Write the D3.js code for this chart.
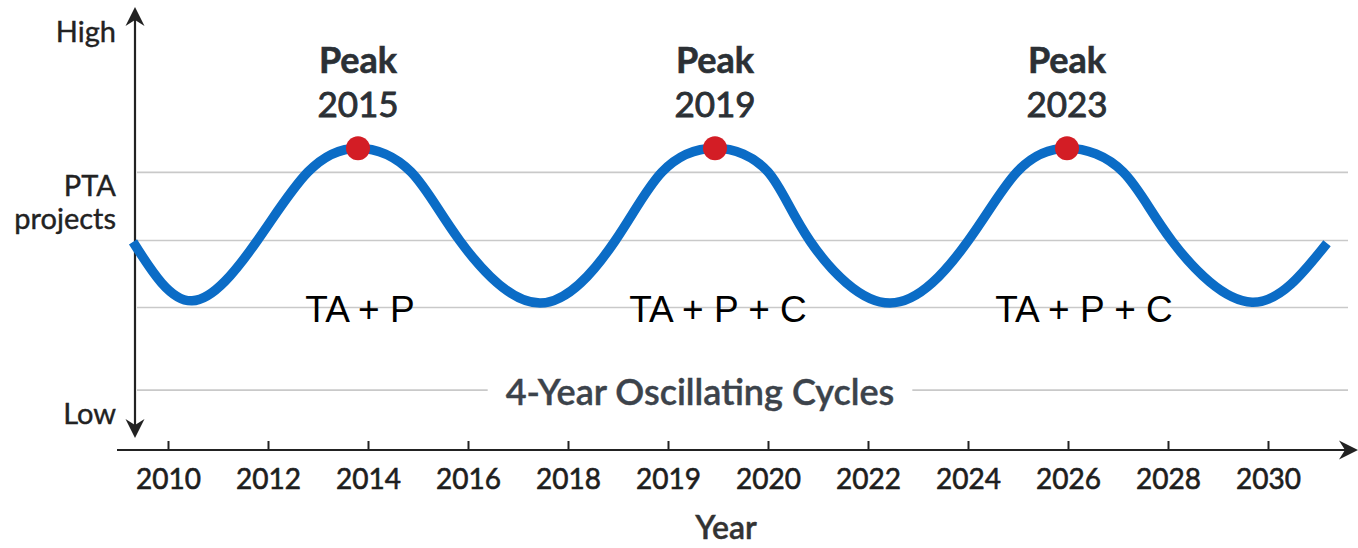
<!DOCTYPE html>
<html>
<head>
<meta charset="utf-8">
<script src="https://cdn.jsdelivr.net/npm/d3@7"></script>
<style>
  body { margin: 0; background: #fff; }
  text { font-family: Lato, "Open Sans", sans-serif; }
</style>
</head>
<body>
<div id="chart"></div>
<script>
// tick labels along the bottom (not evenly spaced years, as in the original)
var xLabels = ["2010", "2012", "2014", "2016", "2018", "2019", "2020", "2022", "2024", "2026", "2028", "2030"];

// level labels on the left
var yLabelText = ["High", "PTA projects", "Low"];
var yLabelLevel = [95, 56.3, 8.2];

// horizontal guide lines
var gridLevels = [63.1, 47.6, 32.4, 13.6];

// the oscillating curve (x = tick index, y = level)
var cycleX = [-0.35, 0.24, 0.89, 1.40, 1.90, 2.43, 2.92, 3.72, 4.47, 4.94, 5.47, 6.00, 6.42, 7.22, 8.00, 8.49, 8.99, 9.55, 10.04, 10.84, 11.59];
var cycleY = [47.3, 33.9, 47.5, 63.2, 68.6, 63.2, 47.5, 33.4, 47.5, 63.2, 68.6, 63.2, 47.5, 33.4, 47.5, 63.2, 68.6, 63.2, 47.5, 33.6, 47.0];

// peaks
var peakX = [1.90, 5.47, 8.99];
var peakY = [68.6, 68.6, 68.6];
var peakYears = ["2015", "2019", "2023"];

// phase labels under each peak
var phaseText = ["TA + P", "TA + P + C", "TA + P + C"];
var phaseX = [1.92, 5.50, 9.16];
var phaseLevel = 29.1;

var caption = "4-Year Oscillating Cycles";
var captionX = 5.32, captionLevel = 10.2;

var W = 1358, H = 548;

var svg = d3.select("#chart").append("svg")
  .attr("width", W)
  .attr("height", H);

var x = d3.scaleLinear()
  .domain([0, xLabels.length - 1])
  .range([168, 1268]);

var y = d3.scaleLinear()
  .domain([0, 100])
  .range([450, 10]);

var axisY = 450;
var yAxisX = x(-0.33);

// grid lines
svg.append("g").selectAll("line")
  .data(gridLevels)
  .enter().append("line")
    .attr("x1", yAxisX + 2)
    .attr("x2", 1348)
    .attr("y1", function(d){ return y(d); })
    .attr("y2", function(d){ return y(d); })
    .attr("stroke", "#c9c9c9")
    .attr("stroke-width", 1.6);

// caption sitting on the lowest grid line, with a gap behind it
var cap = svg.append("g");
var capText = cap.append("text")
  .attr("x", x(captionX))
  .attr("y", y(captionLevel))
  .attr("text-anchor", "middle")
  .style("font-size", "36px")
  .style("font-weight", 600)
  .attr("fill", "#3c434b")
  .attr("stroke", "#3c434b")
  .attr("stroke-width", 0.4)
  .text(caption);
var bb = capText.node().getBBox();
cap.insert("rect", "text")
  .attr("x", bb.x - 18)
  .attr("y", bb.y)
  .attr("width", bb.width + 36)
  .attr("height", bb.height)
  .attr("fill", "#fff");

// x axis: ticks point upward, labels below
var xAxis = d3.axisBottom(x)
  .tickValues(d3.range(xLabels.length))
  .tickFormat(function(i){ return xLabels[i]; })
  .tickSizeInner(-9)
  .tickSizeOuter(0)
  .tickPadding(19);

var gx = svg.append("g")
  .attr("transform", "translate(0," + axisY + ")")
  .call(xAxis);
gx.select(".domain").remove();
gx.selectAll(".tick line").attr("stroke", "#222").attr("stroke-width", 2);
gx.selectAll(".tick text")
  .attr("fill", "#1e1e1e")
  .attr("stroke", "#1e1e1e")
  .attr("stroke-width", 0.6)
  .style("font-size", "28px")
  .style("font-family", "Lato, 'Open Sans', sans-serif");

// axis lines with arrow heads
svg.append("line")
  .attr("x1", 117).attr("x2", 1346)
  .attr("y1", axisY).attr("y2", axisY)
  .attr("stroke", "#222").attr("stroke-width", 2.2);
svg.append("line")
  .attr("x1", yAxisX).attr("x2", yAxisX)
  .attr("y1", 20).attr("y2", 426)
  .attr("stroke", "#222").attr("stroke-width", 2.2);

function arrow(tx, ty, dir) {
  // dir: "up", "down", "right"
  var L = 19, hw = 9.5, n = 6;
  var p;
  if (dir === "up") p = [[tx, ty], [tx + hw, ty + L], [tx, ty + L - n], [tx - hw, ty + L]];
  if (dir === "down") p = [[tx, ty], [tx + hw, ty - L], [tx, ty - L + n], [tx - hw, ty - L]];
  if (dir === "right") p = [[tx, ty], [tx - L, ty + hw], [tx - L + n, ty], [tx - L, ty - hw]];
  svg.append("path")
    .attr("d", "M" + p.join("L") + "Z")
    .attr("fill", "#222");
}
arrow(yAxisX, 7, "up");
arrow(yAxisX, 438, "down");
arrow(1358, axisY, "right");

// level labels
svg.append("g").selectAll("text")
  .data(yLabelText)
  .enter().append("text")
    .attr("x", 116)
    .attr("y", function(d, i){ return y(yLabelLevel[i]); })
    .attr("text-anchor", "end")
    .attr("fill", "#222")
    .attr("stroke", "#222")
    .attr("stroke-width", 0.4)
    .style("font-size", "29px")
    .each(function(d){
      var words = d.split(" ");
      var t = d3.select(this);
      if (words.length === 1) {
        t.attr("dy", "0.35em").text(d);
      } else {
        words.forEach(function(w, k){
          t.append("tspan")
            .attr("x", 116)
            .attr("dy", k === 0 ? (0.35 - 0.57) + "em" : "1.14em")
            .text(w);
        });
      }
    });

// the curve
var pts = cycleX.map(function(d, i){ return [d, cycleY[i]]; });
var line = d3.line()
  .x(function(d){ return x(d[0]); })
  .y(function(d){ return y(d[1]); })
  .curve(d3.curveNatural);

svg.append("path")
  .datum(pts)
  .attr("d", line)
  .attr("fill", "none")
  .attr("stroke", "#0b6cc6")
  .attr("stroke-width", 9.5);

// peak dots
svg.append("g").selectAll("circle")
  .data(peakX)
  .enter().append("circle")
    .attr("cx", function(d){ return x(d); })
    .attr("cy", function(d, i){ return y(peakY[i]); })
    .attr("r", 12)
    .attr("fill", "#d31d25");

// peak labels
var pk = svg.append("g").selectAll("g")
  .data(peakX)
  .enter().append("g")
    .attr("transform", function(d){ return "translate(" + x(d) + ",0)"; });
pk.append("text")
  .attr("y", 73)
  .attr("text-anchor", "middle")
  .attr("fill", "#2b3035")
  .attr("stroke", "#2b3035")
  .attr("stroke-width", 0.6)
  .style("font-size", "36px")
  .style("font-weight", "bold")
  .text("Peak");
pk.append("text")
  .attr("y", 117)
  .attr("text-anchor", "middle")
  .attr("fill", "#2b3035")
  .attr("stroke", "#2b3035")
  .attr("stroke-width", 0.9)
  .style("font-size", "35px")
  .text(function(d, i){ return peakYears[i]; });

// phase labels
svg.append("g").selectAll("text")
  .data(phaseText)
  .enter().append("text")
    .attr("x", function(d, i){ return x(phaseX[i]); })
    .attr("y", y(phaseLevel))
    .attr("text-anchor", "middle")
    .attr("fill", "#000")
    .style("font-family", "'Liberation Sans', Arial, sans-serif")
    .style("font-size", "37px")
    .text(function(d){ return d; });

// axis title
svg.append("text")
  .attr("x", x(5.58))
  .attr("y", axisY + 89)
  .attr("text-anchor", "middle")
  .attr("fill", "#333")
  .attr("stroke", "#333")
  .attr("stroke-width", 0.4)
  .style("font-size", "32px")
  .style("font-weight", 600)
  .text("Year");
</script>
</body>
</html>
